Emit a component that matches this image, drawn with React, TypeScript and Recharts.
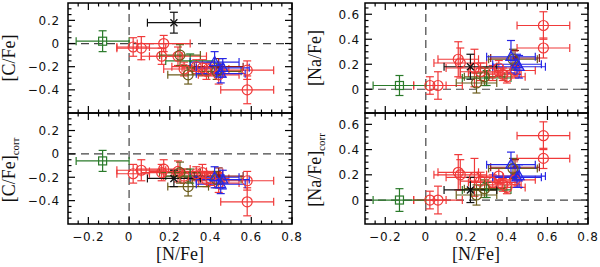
import React from 'react';
import { ScatterChart, Scatter, XAxis, YAxis, ErrorBar, ReferenceLine, ReferenceArea } from 'recharts';

// one entry per star; groups: r red circle, o olive circle, g green dot,
// b blue triangle, m dark red, k black cross, s green square
const group = ['r', 'r', 'r', 'r', 'r', 'r', 'r', 'r', 'r', 'r', 'r', 'r', 'r', 'o', 'o', 'o', 'g', 'b', 'b', 'b', 'm', 'k', 's'];
const nFe = [0.02, 0.06, 0.17, 0.16, 0.24, 0.27, 0.33, 0.36, 0.38, 0.40, 0.58, 0.58, 0.44, 0.25, 0.29, 0.43, 0.30, 0.42, 0.46, 0.45, 0.44, 0.22, -0.13];
const nFeErr = [0.08, 0.12, 0.13, 0.10, 0.14, 0.10, 0.12, 0.10, 0.09, 0.09, 0.13, 0.13, 0.10, 0.10, 0.10, 0.12, 0.12, 0.12, 0.13, 0.12, 0.12, 0.13, 0.13];
const cFe = [-0.03, -0.04, 0.0, -0.11, -0.11, -0.22, -0.20, -0.21, -0.24, -0.22, -0.23, -0.40, -0.27, -0.10, -0.27, -0.24, -0.15, -0.16, -0.21, -0.26, -0.20, 0.18, 0.02];
const cFeErr = [0.08, 0.10, 0.07, 0.07, 0.08, 0.06, 0.06, 0.07, 0.07, 0.06, 0.08, 0.12, 0.08, 0.09, 0.08, 0.07, 0.06, 0.09, 0.08, 0.08, 0.07, 0.09, 0.09];
const cFeCorr = [-0.17, -0.14, -0.13, -0.16, -0.15, -0.19, -0.17, -0.16, -0.22, -0.21, -0.23, -0.41, -0.25, -0.16, -0.28, -0.22, -0.19, -0.20, -0.22, -0.26, -0.19, -0.21, -0.06];
const cFeCorrErr = [0.08, 0.09, 0.08, 0.07, 0.09, 0.06, 0.06, 0.07, 0.06, 0.06, 0.08, 0.12, 0.08, 0.09, 0.08, 0.07, 0.06, 0.09, 0.08, 0.08, 0.07, 0.07, 0.09];
const naFe = [0.03, 0.03, 0.21, 0.24, 0.17, 0.14, 0.13, 0.17, 0.12, 0.10, 0.33, 0.51, 0.15, 0.05, 0.10, 0.24, 0.09, 0.26, 0.18, 0.20, 0.25, 0.18, 0.03];
const naFeErr = [0.07, 0.11, 0.12, 0.14, 0.15, 0.07, 0.06, 0.06, 0.05, 0.05, 0.08, 0.11, 0.06, 0.08, 0.07, 0.08, 0.06, 0.13, 0.09, 0.08, 0.06, 0.10, 0.08];
const naFeCorr = [0.0, 0.0, 0.20, 0.22, 0.18, 0.15, 0.14, 0.19, 0.12, 0.10, 0.33, 0.51, 0.16, 0.04, 0.09, 0.25, 0.08, 0.28, 0.19, 0.18, 0.26, 0.08, 0.0];
const naFeCorrErr = [0.07, 0.11, 0.12, 0.14, 0.15, 0.07, 0.06, 0.06, 0.05, 0.05, 0.08, 0.11, 0.06, 0.08, 0.07, 0.08, 0.06, 0.10, 0.09, 0.08, 0.06, 0.10, 0.09];

const xTicks = [-0.25, -0.2, -0.15, -0.1, -0.05, 0, 0.05, 0.1, 0.15, 0.2, 0.25, 0.3, 0.35, 0.4, 0.45, 0.5, 0.55, 0.6, 0.65, 0.7, 0.75, 0.8];
const xLabels = [-0.2, 0, 0.2, 0.4, 0.6, 0.8];
const cTicks = [-0.55, -0.5, -0.45, -0.4, -0.35, -0.3, -0.25, -0.2, -0.15, -0.1, -0.05, 0, 0.05, 0.1, 0.15, 0.2, 0.25, 0.3];
const cLabels = [-0.4, -0.2, 0, 0.2];
const naTicks = [-0.15, -0.1, -0.05, 0, 0.05, 0.1, 0.15, 0.2, 0.25, 0.3, 0.35, 0.4, 0.45, 0.5, 0.55, 0.6, 0.65];
const naLabels = [0, 0.2, 0.4, 0.6];

const rows = group.map((g, i) => ({
  g,
  n: nFe[i], en: nFeErr[i],
  c: cFe[i], ec: cFeErr[i],
  cc: cFeCorr[i], ecc: cFeCorrErr[i],
  na: naFe[i], ena: naFeErr[i],
  nac: naFeCorr[i], enac: naFeCorrErr[i],
}));

const colors: Record<string, string> = {
  r: '#f03a3a', o: '#6b5c1c', g: '#2a7a2a', b: '#2626e6', m: '#8b1a1a', k: '#111', s: '#2a7a2a',
};
const order = ['r', 'o', 'g', 'm', 'b', 'k', 's'];

const isMajor = (v: number) => Math.abs(v / 0.2 - Math.round(v / 0.2)) < 1e-6;
const fmt = (v: number) => (Math.abs(v) < 1e-9 ? '0' : (v < 0 ? '\u2212' : '') + Math.abs(v).toFixed(1));
const tickFont = { fontFamily: 'DejaVu Sans', fontSize: 12, letterSpacing: 0.8, fill: '#111' };

// tick drawn inward from the frame, label only on labelled majors
const TickMark = (props: any) => {
  const { x, y, payload, side, labels, gap } = props;
  const v = payload.value;
  const len = isMajor(v) ? 7 : 3.5;
  const show = labels && labels.some((l: number) => Math.abs(l - v) < 1e-6);
  const ln = { stroke: '#000', strokeWidth: 1.2 };
  let line = null;
  let text = null;
  if (side === 'bottom') {
    line = <line x1={x} y1={y} x2={x} y2={y - len} {...ln} />;
    if (show) text = <text x={x} y={y + 17} textAnchor="middle" {...tickFont}>{fmt(v)}</text>;
  } else if (side === 'top') {
    line = <line x1={x} y1={y} x2={x} y2={y + len} {...ln} />;
  } else if (side === 'left') {
    line = <line x1={x} y1={y} x2={x + len} y2={y} {...ln} />;
    if (show) text = <text x={x - gap} y={y + 4.5} textAnchor="end" {...tickFont}>{fmt(v)}</text>;
  } else {
    line = <line x1={x} y1={y} x2={x - len} y2={y} {...ln} />;
  }
  return (
    <g>
      {line}
      {text}
    </g>
  );
};

const Marker = (p: any) => {
  const { cx, cy, g } = p;
  const col = colors[g];
  if (g === 'r' || g === 'o') return <circle cx={cx} cy={cy} r={5} fill="none" stroke={col} strokeWidth={1.2} />;
  if (g === 'm') return <circle cx={cx} cy={cy} r={2} fill={col} />;
  if (g === 'g') return <circle cx={cx} cy={cy} r={1.5} fill={col} />;
  if (g === 's') return <rect x={cx - 4} y={cy - 4} width={8} height={8} fill="none" stroke={col} strokeWidth={1.2} />;
  if (g === 'b')
    return <polygon points={`${cx},${cy - 5.5} ${cx - 5},${cy + 3.5} ${cx + 5},${cy + 3.5}`} fill="none" stroke={col} strokeWidth={1.3} />;
  return (
    <g stroke={col} strokeWidth={1.3}>
      <line x1={cx - 3.5} y1={cy - 3.5} x2={cx + 3.5} y2={cy + 3.5} />
      <line x1={cx - 3.5} y1={cy + 3.5} x2={cx + 3.5} y2={cy - 3.5} />
    </g>
  );
};

interface PanelProps {
  yKey: string;
  eKey: string;
  domain: [number, number];
  yTicks: number[];
  yLabels: number[];
  showX: boolean;
  height: number;
  top: number;
  leftW: number;
  rightW: number;
  gap: number;
}

const Panel = ({ yKey, eKey, domain, yTicks, yLabels, showX, height, top, leftW, rightW, gap }: PanelProps) => (
  <ScatterChart width={300} height={height} margin={{ top, right: 0, bottom: 0, left: 0 }}>
    <XAxis
      xAxisId="t" orientation="top" type="number" dataKey="n" domain={[-0.3, 0.8]} allowDataOverflow
      ticks={xTicks} interval={0} height={1} tickSize={0} tickMargin={0} tickLine={false} axisLine={false}
      tick={(p: any) => <TickMark {...p} side="top" />}
    />
    <XAxis
      xAxisId="b" type="number" dataKey="n" domain={[-0.3, 0.8]} allowDataOverflow
      ticks={xTicks} interval={0} height={showX ? 43 : 1} tickSize={0} tickMargin={0} tickLine={false} axisLine={false}
      tick={(p: any) => <TickMark {...p} side="bottom" labels={showX ? xLabels : null} />}
    />
    <YAxis
      yAxisId="l" type="number" dataKey={yKey} domain={domain} allowDataOverflow
      ticks={yTicks} interval={0} width={leftW} tickSize={0} tickMargin={0} tickLine={false} axisLine={false}
      tick={(p: any) => <TickMark {...p} side="left" labels={yLabels} gap={gap} />}
    />
    <YAxis
      yAxisId="r" orientation="right" type="number" dataKey={yKey} domain={domain} allowDataOverflow
      ticks={yTicks} interval={0} width={rightW} tickSize={0} tickMargin={0} tickLine={false} axisLine={false}
      tick={(p: any) => <TickMark {...p} side="right" />}
    />
    <ReferenceLine xAxisId="b" yAxisId="l" x={0} stroke="#444" strokeWidth={1.2} strokeDasharray="8 5" />
    <ReferenceLine xAxisId="b" yAxisId="l" y={0} stroke="#444" strokeWidth={1.2} strokeDasharray="8 5" />
    {order.map((g) => (
      <Scatter
        key={g}
        xAxisId="b"
        yAxisId="l"
        data={rows.filter((r) => r.g === g)}
        isAnimationActive={false}
        shape={(p: any) => <Marker cx={p.cx} cy={p.cy} g={g} />}
      >
        <ErrorBar dataKey="en" direction="x" width={4} stroke={colors[g]} strokeWidth={1.2} />
        <ErrorBar dataKey={eKey} direction="y" width={4} stroke={colors[g]} strokeWidth={1.2} />
      </Scatter>
    ))}
    <ReferenceArea
      xAxisId="b" yAxisId="l" x1={-0.3} x2={0.8} y1={domain[0]} y2={domain[1]}
      fill="none" fillOpacity={0} stroke="#000" strokeWidth={1.5} strokeOpacity={1} ifOverflow="visible"
    />
  </ScatterChart>
);

const serif = { fontFamily: 'Liberation Serif', fontSize: 18, fill: '#111' };

export default function App() {
  return (
    <div style={{ position: 'absolute', left: 0, top: 0, width: 600, height: 267, background: '#fff' }}>
      <style>{'.recharts-surface{overflow:visible}'}</style>
      <div style={{ position: 'absolute', left: 0, top: 0 }}>
        <Panel yKey="c" eKey="ec" domain={[-0.6, 0.35]} yTicks={cTicks} yLabels={cLabels} showX={false} height={114} top={2} leftW={68} rightW={8} gap={8} />
      </div>
      <div style={{ position: 'absolute', left: 0, top: 112 }}>
        <Panel yKey="cc" eKey="ecc" domain={[-0.6, 0.35]} yTicks={cTicks} yLabels={cLabels} showX height={155} top={0} leftW={68} rightW={8} gap={8} />
      </div>
      <div style={{ position: 'absolute', left: 300, top: 0 }}>
        <Panel yKey="na" eKey="ena" domain={[-0.19, 0.69]} yTicks={naTicks} yLabels={naLabels} showX={false} height={114} top={2} leftW={65} rightW={12} gap={5} />
      </div>
      <div style={{ position: 'absolute', left: 300, top: 112 }}>
        <Panel yKey="nac" eKey="enac" domain={[-0.19, 0.69]} yTicks={naTicks} yLabels={naLabels} showX height={155} top={0} leftW={65} rightW={12} gap={5} />
      </div>
      <svg width={600} height={267} style={{ position: 'absolute', left: 0, top: 0, pointerEvents: 'none' }}>
        <text transform="translate(15,58) rotate(-90)" textAnchor="middle" {...serif}>[C/Fe]</text>
        <text transform="translate(15,170) rotate(-90)" textAnchor="middle" {...serif}>
          [C/Fe]<tspan fontSize={11} dy={4}>corr</tspan>
        </text>
        <text transform="translate(321,58) rotate(-90)" textAnchor="middle" {...serif}>[Na/Fe]</text>
        <text transform="translate(321,170) rotate(-90)" textAnchor="middle" {...serif}>
          [Na/Fe]<tspan fontSize={11} dy={4}>corr</tspan>
        </text>
        <text x={180} y={260} textAnchor="middle" {...serif}>[N/Fe]</text>
        <text x={476} y={260} textAnchor="middle" {...serif}>[N/Fe]</text>
      </svg>
    </div>
  );
}
